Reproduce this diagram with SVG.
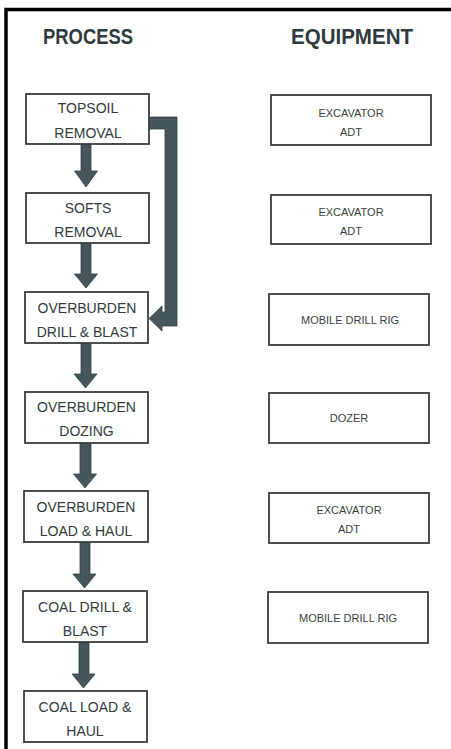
<svg xmlns="http://www.w3.org/2000/svg" width="451" height="749" viewBox="0 0 451 749">
<style>
.bg{fill:#ffffff}
.frame{fill:none;stroke:#000;stroke-width:3.5}
.head{font-family:"Liberation Sans",Arial,sans-serif;font-weight:bold;font-size:22px;fill:#2e3a3e}
.pbox{fill:#fff;stroke:#3a3d3e;stroke-width:1.8}
.ebox{fill:#fff;stroke:#3a3d3e;stroke-width:1.8}
.pt{font-family:"Liberation Sans",Arial,sans-serif;font-size:14px;fill:#333a3c;text-anchor:middle}
.et{font-family:"Liberation Sans",Arial,sans-serif;font-size:11px;fill:#3c3f40;text-anchor:middle}
.arr{fill:#46565b;stroke:#34403f;stroke-width:0.8}
</style>
<rect class="bg" x="0" y="0" width="451" height="749"/>
<rect class="frame" x="6" y="9.5" width="470" height="760"/>
<text class="head" x="43" y="44" textLength="90" lengthAdjust="spacingAndGlyphs">PROCESS</text>
<text class="head" x="291" y="44" textLength="122" lengthAdjust="spacingAndGlyphs">EQUIPMENT</text>

<g id="connectors">
<path class="arr" d="M81,144 H91 V171 H97.5 L86,187 L74.5,171 H81 Z"/>
<path class="arr" d="M81,243 H91 V274 H97.5 L86,288 L74.5,274 H81 Z"/>
<path class="arr" d="M81,343 H91 V374 H97 L85.5,388 L74,374 H81 Z"/>
<path class="arr" d="M80,443 H91 V474 H96.5 L85,488 L73.5,474 H80 Z"/>
<path class="arr" d="M80,542 H90 V574 H96 L84.5,588 L73,574 H80 Z"/>
<path class="arr" d="M79,642 H89 V674 H95 L83.5,688 L72,674 H79 Z"/>
<path class="arr" d="M149,117 H177 V326 H162 V331 L149,318.5 L162,306 V312 H165 V129 H149 Z"/>
</g>

<g id="p1"><rect class="pbox" x="26" y="94" width="123" height="50"/><text class="pt" x="88" y="113">TOPSOIL</text><text class="pt" x="88" y="138">REMOVAL</text></g>
<g id="p2"><rect class="pbox" x="26" y="193" width="123" height="50"/><text class="pt" x="88" y="213">SOFTS</text><text class="pt" x="88" y="237">REMOVAL</text></g>
<g id="p3"><rect class="pbox" x="25" y="292" width="123" height="51"/><text class="pt" x="87" y="313">OVERBURDEN</text><text class="pt" x="87" y="337">DRILL &amp; BLAST</text></g>
<g id="p4"><rect class="pbox" x="25" y="392" width="123" height="51"/><text class="pt" x="86.5" y="412">OVERBURDEN</text><text class="pt" x="86.5" y="436">DOZING</text></g>
<g id="p5"><rect class="pbox" x="24" y="491" width="124" height="51"/><text class="pt" x="86" y="512">OVERBURDEN</text><text class="pt" x="86" y="536">LOAD &amp; HAUL</text></g>
<g id="p6"><rect class="pbox" x="23" y="591" width="124" height="51"/><text class="pt" x="85" y="612">COAL DRILL &amp;</text><text class="pt" x="85" y="636">BLAST</text></g>
<g id="p7"><rect class="pbox" x="24" y="691" width="123" height="51"/><text class="pt" x="85" y="712">COAL LOAD &amp;</text><text class="pt" x="85" y="736">HAUL</text></g>

<g id="e1"><rect class="ebox" x="271" y="95" width="160" height="50"/><text class="et" x="351" y="117">EXCAVATOR</text><text class="et" x="351" y="136">ADT</text></g>
<g id="e2"><rect class="ebox" x="271" y="195" width="160" height="49"/><text class="et" x="351" y="216">EXCAVATOR</text><text class="et" x="351" y="235">ADT</text></g>
<g id="e3"><rect class="ebox" x="269" y="294" width="160" height="51"/><text class="et" x="350" y="324">MOBILE DRILL RIG</text></g>
<g id="e4"><rect class="ebox" x="269" y="393" width="160" height="50"/><text class="et" x="349" y="422">DOZER</text></g>
<g id="e5"><rect class="ebox" x="269" y="493" width="160" height="50"/><text class="et" x="349" y="514">EXCAVATOR</text><text class="et" x="349" y="533">ADT</text></g>
<g id="e6"><rect class="ebox" x="268" y="592" width="160" height="51"/><text class="et" x="348" y="622">MOBILE DRILL RIG</text></g>
</svg>
